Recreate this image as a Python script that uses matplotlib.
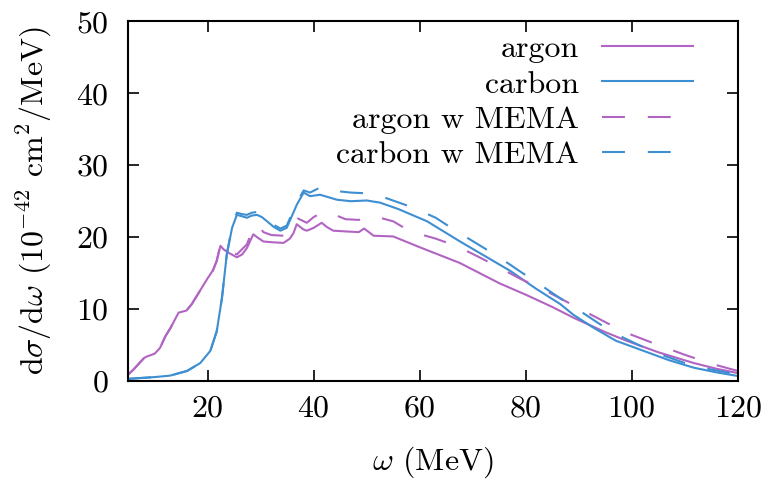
import matplotlib
matplotlib.use("Agg")
import matplotlib.pyplot as plt

plt.rcParams['font.family'] = 'serif'
plt.rcParams['font.serif'] = ['cmr10']
plt.rcParams['mathtext.fontset'] = 'cm'
plt.rcParams['axes.formatter.use_mathtext'] = True
plt.rcParams['font.size'] = 23

# argon (solid)
ar_x = [5, 6, 7, 8, 8.5, 10, 11, 12, 13, 14.5, 16, 17, 18.5, 20, 21, 21.7, 22.4, 23, 24, 25.5,
        26.5, 27.4, 28.6, 29.5, 30.5, 32, 34.3, 35.5, 36.2, 36.8, 38, 38.7, 40, 41.5, 42.5, 43.7,
        46, 48.5, 49.5, 51.3, 55, 60, 67.6, 75, 80, 85, 89, 95, 99, 105, 111.7, 116, 120]
ar_y = [0.9, 1.6, 2.4, 3.2, 3.4, 3.8, 4.6, 6.2, 7.4, 9.5, 9.8, 10.7, 12.5, 14.3, 15.4, 16.7, 18.8, 18.3, 17.8, 17.2,
        17.6, 18.5, 20.4, 19.9, 19.4, 19.3, 19.2, 19.8, 20.6, 21.8, 21.1, 20.9, 21.3, 22.0, 21.4, 20.9,
        20.8, 20.7, 21.2, 20.2, 20.1, 18.6, 16.4, 13.6, 12.0, 10.3, 8.8, 6.8, 5.6, 4.0, 2.5, 1.7, 1.1]

# carbon (solid)
c_x = [5, 8, 10, 12.9, 16.1, 18.6, 20.5, 21.7, 22.7, 23.6, 24.6, 25.5, 26.5, 27.4, 28.3, 29.3, 30.2,
       31.2, 32.5, 33.7, 34.9, 35.8, 36.8, 38.1, 39.3, 41.2, 44.4, 47, 50, 52.5, 56, 61.4, 67.6, 72,
       77.1, 82, 86.5, 89, 92.8, 97, 102.2, 107, 111.7, 116, 120]
c_y = [0.3, 0.45, 0.55, 0.75, 1.4, 2.5, 4.2, 6.9, 11.6, 17.6, 21.3, 23.1, 22.9, 22.7, 23.0, 23.1, 22.8,
       22.2, 21.4, 20.9, 21.3, 22.8, 24.5, 26.2, 25.7, 25.9, 25.2, 25.0, 25.1, 24.8, 23.9, 22.2, 19.4, 17.5,
       15.3, 12.8, 10.7, 9.2, 7.4, 5.6, 4.2, 2.9, 1.85, 1.2, 0.7]

# argon w MEMA (dashed)
arm_x = [5, 6, 7, 8, 8.5, 10, 11, 12, 13, 14.5, 16, 17, 18.5, 20, 21, 21.7, 22.4, 23, 25.5, 27.4,
         28.6, 29.5, 30.5, 32, 34.3, 36.2, 37, 38.7, 40, 42, 44, 46, 48.5, 49.5, 51, 55, 58.2, 63,
         67, 71, 75.2, 79, 83.4, 87.5, 91.6, 95.5, 99.7, 105, 109.8, 115, 120]
arm_y = [0.9, 1.6, 2.4, 3.2, 3.4, 3.8, 4.6, 6.2, 7.4, 9.5, 9.8, 10.7, 12.5, 14.3, 15.4, 16.7, 19.0, 18.5, 17.6, 19.0,
         21.3, 21.7, 20.7, 20.3, 20.2, 21.3, 22.6, 22.0, 22.8, 23.6, 23.1, 22.5, 22.4, 22.6, 23.0, 22.2, 20.8, 19.8,
         18.75, 17.3, 15.7, 14.2, 12.7, 11.1, 9.5, 8.0, 6.5, 5.0, 3.7, 2.4, 1.4]

# carbon w MEMA (dashed)
cm_x = [5, 8, 10, 12.9, 16.1, 18.6, 20.5, 21.7, 22.7, 23.6, 24.6, 25.5, 26.5, 27.4, 28.3, 29.3, 30.2,
        31.2, 32.5, 33.7, 34.9, 35.8, 36.8, 38.1, 39.3, 41.2, 42.5, 44.4, 47, 50, 53, 58.8, 63, 67, 71,
        75.2, 79, 82.7, 86.5, 90.3, 94, 97.8, 101.6, 105.4, 110, 115, 120]
cm_y = [0.3, 0.45, 0.55, 0.75, 1.4, 2.5, 4.2, 6.9, 11.6, 17.6, 21.5, 23.4, 23.2, 23.1, 23.4, 23.5, 23.1,
        22.5, 21.7, 21.2, 21.6, 23.1, 24.8, 26.5, 26.2, 26.9, 27.0, 26.4, 26.2, 26.1, 25.6, 24.1, 22.7, 20.8, 19.0,
        17.1, 15.2, 13.4, 11.5, 9.7, 7.9, 6.25, 4.9, 3.7, 2.5, 1.6, 0.9]

purple = '#b264c3'
blue = '#3e8ed2'

fig = plt.figure(figsize=(7.63, 4.86), dpi=100)
ax = fig.add_axes([0.168, 0.216, 0.799, 0.740])

ax.plot(ar_x, ar_y, color=purple, lw=1.5, label='argon')
ax.plot(c_x, c_y, color=blue, lw=1.5, label='carbon')
ax.plot(arm_x, arm_y, color=purple, lw=1.5, dashes=(11, 11), label='argon w MEMA')
ax.plot(cm_x, cm_y, color=blue, lw=1.5, dashes=(11, 11), label='carbon w MEMA')

ax.set_xlim(5, 120)
ax.set_ylim(0, 50)
ax.set_xticks([20, 40, 60, 80, 100, 120])
ax.set_yticks([0, 10, 20, 30, 40, 50])
ax.tick_params(direction='in', top=True, right=True, length=8, width=1.2)
ax.tick_params(axis='y', pad=14)
ax.tick_params(axis='x', pad=10)
for s in ax.spines.values():
    s.set_linewidth(1.5)

ax.set_xlabel(r'$\omega$ (MeV)', labelpad=16)
ax.set_ylabel(r'd$\sigma$/d$\omega$ ($10^{-42}$ cm$^2$/MeV)', labelpad=16)

ax.legend(loc='upper right', bbox_to_anchor=(0.947, 0.998), frameon=False, markerfirst=False,
          handlelength=2.85, handletextpad=0.72, labelspacing=0.22, borderaxespad=0.0)

fig.savefig('out.png', dpi=100)
